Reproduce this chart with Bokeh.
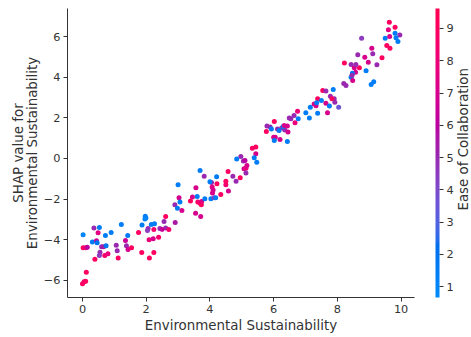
import numpy as np
from bokeh.plotting import figure
from bokeh.layouts import row
from bokeh.models import ColorBar, LinearColorMapper, FixedTicker, ColumnDataSource
from bokeh.core.properties import value
from bokeh.embed import file_html
from bokeh.resources import INLINE

# ---- data ----
env_sust = [
    0.02, 0.02, 0.10, 0.15, 0.12, 0.00, 0.05, 0.10, 0.36, 0.53, 0.49, 0.31, 0.44, 0.46,
    0.72, 0.90, 1.22, 1.42, 0.60, 0.66, 0.74, 0.55, 0.53, 0.70, 0.80, 0.39, 1.06, 1.09,
    1.12, 1.35, 1.38, 1.43, 1.54, 1.76, 1.87, 1.97, 1.99, 1.96, 2.06, 2.04, 2.16, 2.26,
    1.86, 2.10, 2.24, 2.09, 2.22, 2.39, 2.24, 2.43, 2.61, 2.50, 2.71, 2.61, 2.56, 2.91,
    3.00, 3.03, 3.06, 2.90, 2.98, 3.12, 3.56, 3.60, 3.45, 3.39, 3.62, 3.69, 3.74, 3.84,
    4.03, 3.55, 3.71, 3.69, 3.82, 4.21, 4.57, 4.05, 4.22, 4.50, 4.50, 4.07, 4.10, 4.08,
    4.13, 4.34, 4.58, 4.00, 4.18, 3.73, 4.72, 4.95, 4.82, 4.97, 4.84, 5.05, 5.10, 5.07,
    5.13, 5.13, 5.16, 5.33, 5.44, 5.44, 5.39, 5.47, 5.79, 5.89, 5.93, 5.77, 6.12, 6.25,
    6.35, 6.30, 6.17, 6.43, 6.45, 6.00, 6.05, 6.02, 6.20, 6.43, 6.49, 6.02, 6.33, 6.75,
    6.64, 6.67, 6.77, 6.54, 7.01, 7.12, 7.15, 7.38, 7.38, 7.50, 7.27, 7.33, 7.35, 7.54,
    7.64, 7.87, 7.78, 7.90, 7.83, 7.64, 7.92, 7.75, 7.69, 8.04, 8.22, 8.43, 8.53, 8.69,
    8.58, 8.57, 8.47, 8.43, 8.46, 8.48, 8.20, 8.27, 9.63, 9.81, 9.60, 9.81, 9.96, 9.50,
    9.64, 9.84, 9.90, 9.55, 9.65, 8.76, 9.08, 9.11, 9.40, 8.64, 8.86, 8.97, 9.24, 8.90,
    9.06, 9.14,
]
shap_value = [
    -3.76, -4.40, -4.40, -4.38, -5.60, -6.17, -6.08, -6.05, -3.43, -3.40, -3.66, -4.12, -4.05, -4.15,
    -3.80, -3.65, -3.25, -3.80, -4.35, -4.35, -4.30, -4.62, -4.78, -4.78, -4.70, -4.96, -4.27, -4.55,
    -4.90, -4.04, -4.30, -4.48, -4.40, -3.65, -3.28, -2.85, -2.93, -2.98, -3.45, -3.55, -3.25, -3.22,
    -4.63, -4.90, -4.63, -4.00, -3.95, -3.88, -3.50, -3.45, -3.42, -3.50, -3.50, -2.86, -3.10, -3.15,
    -1.30, -1.94, -2.15, -2.28, -2.45, -2.56, -1.44, -1.87, -1.90, -2.10, -2.15, -2.20, -2.12, -1.99,
    -1.99, -2.70, -2.86, -0.59, -0.87, -0.90, -0.64, -1.18, -1.25, -1.12, -1.30, -1.40, -1.55, -1.70,
    -1.93, -1.77, -1.60, -1.15, -1.93, -2.28, -0.87, -0.95, -1.12, 0.10, -0.02, -0.13, -0.10, -0.50,
    -0.48, -0.72, -0.34, 0.50, 0.56, 0.23, 0.03, -0.18, 1.60, 1.55, 1.45, 1.33, 1.45, 1.50,
    1.40, 1.58, 1.38, 1.60, 1.30, 1.05, 1.05, 0.89, 0.94, 0.84, 2.00, 1.82, 1.62, 2.33,
    2.12, 1.76, 1.96, 1.96, 2.25, 2.00, 2.53, 2.23, 2.94, 2.86, 2.69, 2.60, 2.74, 3.35,
    3.32, 3.40, 3.07, 2.94, 2.94, 2.72, 2.77, 2.58, 2.25, 2.53, 4.70, 4.63, 4.47, 4.47,
    4.63, 4.25, 4.20, 4.00, 4.10, 3.84, 3.70, 3.60, 6.71, 6.47, 6.34, 6.17, 6.09, 5.93,
    6.01, 5.95, 5.76, 5.57, 5.43, 5.93, 5.43, 5.16, 4.96, 5.11, 4.99, 4.74, 4.62, 4.32,
    3.65, 3.78,
]
ease_collab = [
    1.0, 9.0, 8.5, 6.0, 9.0, 9.0, 8.5, 9.0, 5.0, 1.5, 7.5, 1.5, 6.5, 2.0,
    1.5, 1.5, 1.5, 1.5, 5.0, 5.5, 2.0, 5.0, 4.5, 8.5, 8.0, 9.0, 5.0, 5.0,
    9.0, 6.5, 5.0, 7.0, 9.0, 9.0, 1.5, 1.5, 1.5, 1.0, 5.0, 4.5, 1.5, 1.5,
    9.0, 9.0, 9.0, 8.0, 7.0, 8.5, 8.5, 5.0, 5.0, 6.5, 8.5, 9.0, 5.0, 5.5,
    1.5, 7.0, 1.5, 5.0, 1.5, 7.0, 7.0, 1.5, 7.0, 9.0, 8.5, 9.0, 7.0, 1.5,
    1.5, 7.0, 7.0, 1.5, 5.0, 1.5, 9.0, 5.0, 9.0, 9.0, 8.5, 7.5, 7.0, 7.0,
    4.5, 9.0, 7.0, 1.5, 1.5, 9.0, 5.0, 9.0, 5.0, 5.0, 1.5, 5.0, 6.0, 7.0,
    8.0, 5.0, 7.0, 9.0, 9.0, 7.0, 1.5, 1.5, 5.0, 5.0, 1.5, 9.0, 5.0, 5.0,
    5.0, 1.5, 1.5, 7.0, 7.0, 7.0, 7.0, 1.5, 7.0, 1.5, 5.0, 9.0, 7.0, 8.0,
    5.0, 8.0, 1.5, 5.0, 1.5, 1.5, 1.5, 1.5, 9.0, 1.5, 7.0, 7.0, 1.5, 9.0,
    5.0, 1.5, 5.0, 5.0, 9.0, 7.0, 5.0, 1.5, 7.0, 3.5, 9.0, 5.0, 7.0, 9.0,
    5.0, 7.0, 1.5, 1.5, 5.0, 7.0, 5.0, 5.0, 9.0, 9.0, 7.5, 1.5, 5.0, 1.5,
    7.0, 1.5, 1.5, 9.0, 9.0, 4.5, 7.0, 5.0, 9.0, 5.0, 7.0, 7.0, 5.0, 1.5,
    1.5, 1.5,
]
x_ticks = [0, 2, 4, 6, 8, 10]
y_ticks = [-6, -4, -2, 0, 2, 4, 6]
cbar_ticks = [1, 2, 3, 4, 5, 6, 7, 8, 9]
cbar_low, cbar_high = 0.66, 9.62
x_label = "Environmental Sustainability"
y_label = "SHAP value for\nEnvironmental Sustainability"
c_label = "Ease of Collaboration"


# ---- SHAP-style red_blue colormap (LCH interpolation) ----
def shap_red_blue(n=256):
    t = np.linspace(0, 1, n)
    L = np.where(t < 0.5, 54 - 28 * t, 40 + 28 * (t - 0.5))
    C = 70 + 20 * t
    h = 4.6588 + t * (0.35470565 + 2 * np.pi - 4.6588)
    a = C * np.cos(h)
    b = C * np.sin(h)
    fy = (L + 16) / 116
    fx = fy + a / 500
    fz = fy - b / 200

    def finv(v):
        return np.where(v > 6 / 29, v ** 3, 3 * (6 / 29) ** 2 * (v - 4 / 29))

    X = 0.95047 * finv(fx)
    Y = finv(fy)
    Z = 1.08883 * finv(fz)
    r = 3.2406 * X - 1.5372 * Y - 0.4986 * Z
    g = -0.9689 * X + 1.8758 * Y + 0.0415 * Z
    bb = 0.0557 * X - 0.2040 * Y + 1.0570 * Z
    rgb = np.clip(np.array([r, g, bb]), 0, None)
    rgb = np.where(rgb > 0.0031308, 1.055 * rgb ** (1 / 2.4) - 0.055, 12.92 * rgb)
    rgb = np.clip(rgb, 0, 1)
    return ["#%02x%02x%02x" % tuple(int(round(v * 255)) for v in rgb[:, i]) for i in range(n)]


palette = shap_red_blue()
mapper = LinearColorMapper(palette=palette, low=cbar_low, high=cbar_high)

FONT = "DejaVu Sans"
AX = "#333333"
LABEL_W = 15
MAIN_W = 471 - LABEL_W

src = ColumnDataSource(dict(x=env_sust, y=shap_value, c=ease_collab))

p = figure(width=MAIN_W, height=337, x_range=(-0.47, 10.42), y_range=(-6.85, 7.39),
           output_backend="svg", toolbar_location=None,
           min_border_left=67, min_border_right=MAIN_W - 415, min_border_top=8,
           min_border_bottom=40)
p.outline_line_color = None
p.grid.visible = False
p.background_fill_color = "white"

p.scatter("x", "y", source=src, size=5, line_color=None,
          fill_color={"field": "c", "transform": mapper})

for ax in (p.xaxis, p.yaxis):
    ax.axis_line_color = AX
    ax.axis_line_width = 1
    ax.major_tick_line_color = AX
    ax.minor_tick_line_color = None
    ax.major_tick_out = 4
    ax.major_tick_in = 0
    ax.major_label_text_font = FONT
    ax.major_label_text_font_size = "11.3px"
    ax.major_label_text_color = AX
    ax.axis_label_text_font = FONT
    ax.axis_label_text_font_size = "13.4px"
    ax.axis_label_text_font_style = "normal"
    ax.axis_label_text_color = AX
    ax.major_label_standoff = 3

p.xaxis.ticker = FixedTicker(ticks=x_ticks)
p.yaxis.ticker = FixedTicker(ticks=y_ticks)
p.yaxis.major_label_overrides = {v: (("\u2212%d" % -v) if v < 0 else str(v)) for v in y_ticks}
p.xaxis.axis_label = x_label
p.yaxis.axis_label = y_label
p.yaxis.axis_label_text_line_height = 0.9
p.xaxis.axis_label_standoff = 2
p.yaxis.axis_label_standoff = 1

cb = ColorBar(color_mapper=mapper, ticker=FixedTicker(ticks=cbar_ticks), width=4,
              padding=0, margin=0, location=(21, 0),
              bar_line_color=None, border_line_color=None, background_fill_color=None,
              major_tick_out=4, major_tick_in=0, major_tick_line_color=AX,
              minor_tick_line_color=None,
              major_label_text_font=FONT, major_label_text_font_size="11.3px",
              major_label_text_color=AX, label_standoff=3)
p.add_layout(cb, "right")

# narrow companion figure carrying the colour-bar title, rotated
q = figure(width=LABEL_W, height=337, x_range=(0, LABEL_W), y_range=(0, 337),
           output_backend="svg", toolbar_location=None,
           min_border_left=0, min_border_right=0, min_border_top=0, min_border_bottom=0)
q.axis.visible = False
q.grid.visible = False
q.outline_line_color = None
q.text(x=[462.5 - MAIN_W], y=[337 - 152.5], text=[c_label], angle=np.pi / 2,
       text_align="center", text_baseline="middle", text_font=value(FONT),
       text_font_size=value("13.4px"), text_color=AX)

layout = row(p, q, spacing=0)
open("out.html", "w").write(file_html(layout, INLINE))
